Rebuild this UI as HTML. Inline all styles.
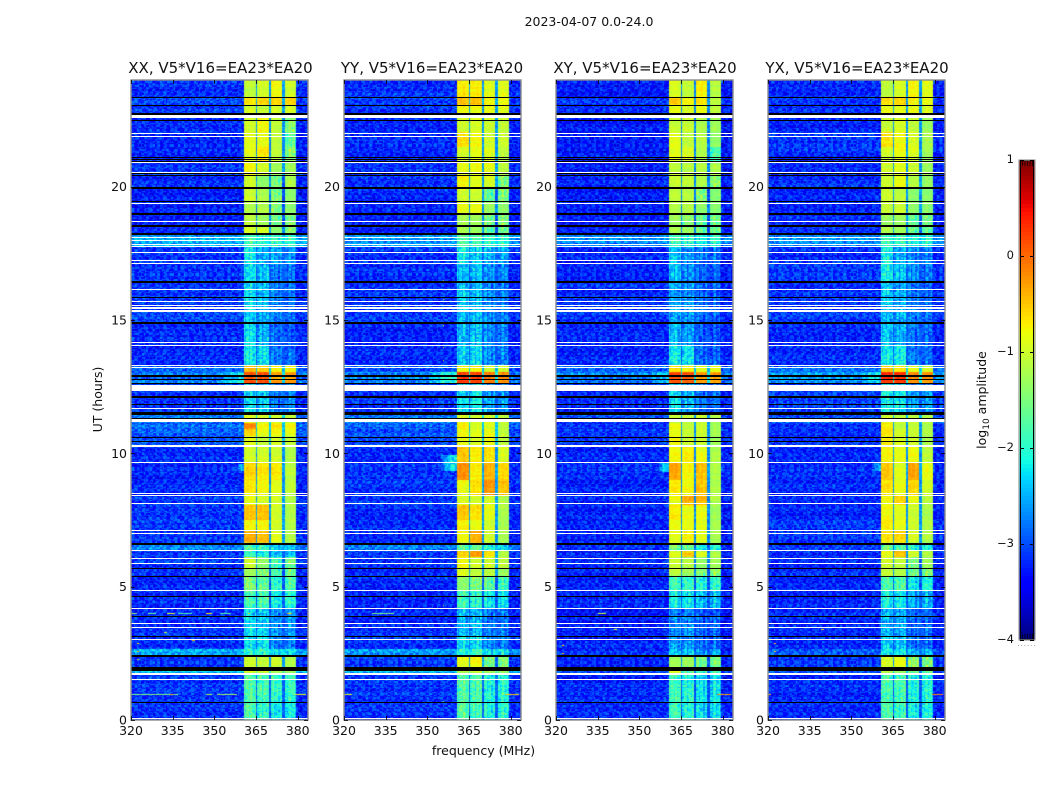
<!DOCTYPE html>
<html lang="en">
<head>
<meta charset="utf-8">
<title>2023-04-07 spectrograms</title>
<style>
html,body{margin:0;padding:0;background:#fff;}
#chart{position:relative;width:1050px;height:800px;overflow:hidden;background:#fff;}
canvas{position:absolute;top:80px;display:block;}
svg{position:absolute;left:0;top:0;}
text{font-family:"DejaVu Sans","Liberation Sans",sans-serif;fill:#111;}
</style>
</head>
<body>
<div id="chart">
<canvas id="heat-0" width="177" height="640" style="left:131px"></canvas>
<canvas id="heat-1" width="177" height="640" style="left:344px"></canvas>
<canvas id="heat-2" width="177" height="640" style="left:556px"></canvas>
<canvas id="heat-3" width="177" height="640" style="left:768px"></canvas>
<svg id="overlay" width="1050" height="800" viewBox="0 0 1050 800">
  <text x="589" y="26" text-anchor="middle" font-size="12.5">2023-04-07 0.0-24.0</text>
  <text x="220.5" y="73" text-anchor="middle" font-size="15">XX, V5*V16=EA23*EA20</text>
  <text x="432" y="73" text-anchor="middle" font-size="15">YY, V5*V16=EA23*EA20</text>
  <text x="645" y="73" text-anchor="middle" font-size="15">XY, V5*V16=EA23*EA20</text>
  <text x="857" y="73" text-anchor="middle" font-size="15">YX, V5*V16=EA23*EA20</text>
  <text x="483.5" y="755" text-anchor="middle" font-size="12.5">frequency (MHz)</text>
  <text transform="translate(102,399.5) rotate(-90)" text-anchor="middle" font-size="12.5">UT (hours)</text>
  <text transform="translate(986,400) rotate(-90)" text-anchor="middle" font-size="12.5">log<tspan font-size="9" dy="3">10</tspan><tspan dy="-3"> amplitude</tspan></text>
</svg>
</div>
<script>
// Axis data
const freqTicks = [320, 335, 350, 365, 380];
const hourTicks = [0, 5, 10, 15, 20];
const colorbarTicks = [1, 0, -1, -2, -3, -4];
const colorbarTickLabels = ['1', '0', '\u22121', '\u22122', '\u22123', '\u22124'];

// Frequency zones (MHz): background, block, gap, block, gap, block, gap, block, background
const zoneEdges = [320, 360.35, 364.8, 365.5, 369.7, 370.3, 374.7, 375.3, 379.6, 383.7];

// Time segments (hours, top to bottom)
const segmentEdges = [24, 23.36, 23.06, 22.68, 22.06, 21.5, 20.92, 20.43, 19.98, 19.46, 18.97, 18.52, 18.22, 17.73, 17.05, 16.42, 15.37, 14.92, 14.05, 13.3, 13.04, 12.59, 11.5, 11.16, 10.9, 10.64, 10.26, 9.66, 8.99, 8.42, 8.05, 7.49, 7.11, 6.66, 6.36, 6.1, 5.68, 5.38, 4.86, 4.18, 3.13, 2.64, 2.38, 2.01, 1.75, 0.73, 0];

// log10 amplitude per segment: background, block 1, block 2, block 3, block 4
const xxLevels = [
[-3,-1.1,-1,-.8,-1],[-2.9,-.7,-.6,-.6,-.6],[-3,-1,-1.1,-1,-1],[-3.05,-1,-.8,-1.1,-1.5],[-3.1,-.9,-.9,-1.1,-1.8],
[-3.1,-.9,-.7,-1.1,-1.5],[-3,-.8,-1,-1.3,-1.3],[-3.05,-1,-1.4,-1.6,-1.2],[-3.1,-1,-1.2,-1.5,-1.4],[-3.1,-1.2,-1.2,-1.5,-1.4],
[-3.1,-1.1,-1.3,-1.6,-1.5],[-3.1,-1,-1,-1.4,-1.5],[-2.4,-1.9,-2.1,-2,-2],[-3,-2.2,-2.6,-2.6,-2.7],[-3,-2.3,-2.5,-2.8,-2.9],
[-3,-2.3,-2.5,-2.8,-2.9],[-2.9,-2.4,-2.6,-2.8,-2.9],[-3.05,-2.3,-2.6,-2.9,-3],[-3.05,-2.2,-2.3,-2.8,-2.9],[-2.8,-.5,-.6,-.8,-.8],
[-2.65,.1,.1,-.3,-.3],[-3,-2.3,-2.4,-2.8,-2.8],[-2.65,-.9,-1,-1,-1.1],[-2.75,-.2,-.8,-.7,-.8],[-2.8,-.6,-.9,-.8,-.9],
[-2.85,-.9,-1.1,-1,-1.1],[-3.05,-1,-1,-1,-1.2],[-3.05,-.6,-.7,-.7,-1.1],[-3.05,-.7,-.8,-.9,-1.1],[-3,-.9,-1,-1,-1.2],
[-3,-.5,-.5,-1,-1.2],[-3,-.8,-.8,-1,-1.2],[-3,-.4,-.5,-.9,-1.2],[-2.6,-1.8,-2,-2.4,-2.5],[-3,-2,-2.2,-2.5,-2.5],
[-3,-1,-1.4,-1.9,-1.6],[-3.05,-1.3,-1.5,-1.9,-1.7],[-3.05,-1.5,-1.7,-2,-1.8],[-3.05,-1.9,-1.9,-2.2,-2],[-3.05,-2.3,-2.4,-2.7,-2.7],
[-3.05,-2.3,-2.3,-2.8,-2.8],[-2.4,-2,-2,-2.3,-2.3],[-3,-1,-1.1,-1,-1.2],[-2.2,-.9,-1,-1.2,-1.3],[-3,-1.8,-1.9,-2,-2],
[-3,-1.8,-2,-2.2,-2.2]];
const yyLevels = [
[-3,-.7,-.7,-.9,-.9],[-2.9,-.45,-.45,-.75,-.8],[-3,-.8,-.85,-.85,-.9],[-3.05,-1,-.95,-1,-1.05],[-3.05,-.65,-.8,-1,-1.05],
[-3.05,-.95,-.85,-.9,-1.1],[-3.05,-.9,-.85,-.9,-1.15],[-3,-.75,-.9,-.95,-1.5],[-3.05,-1,-1,-1.7,-1.5],[-3.05,-.85,-.85,-1.3,-1.4],
[-3.1,-1.25,-1.3,-1.6,-1.5],[-3.1,-1.2,-1.3,-1.7,-1.6],[-2.5,-1.8,-1.9,-2,-2],[-3,-2.2,-2.4,-2.5,-2.6],[-3.05,-2.5,-2.5,-2.7,-2.8],
[-3,-2.4,-2.5,-2.7,-2.8],[-2.95,-2.5,-2.5,-2.7,-2.8],[-3.05,-2.5,-2.4,-2.7,-2.8],[-3.05,-2.4,-2.3,-2.7,-2.8],[-2.8,-.8,-.75,-1,-1],
[-2.6,.25,.2,-.1,-.2],[-3,-2.3,-2.2,-2.6,-2.7],[-2.65,-.95,-1,-.95,-1.1],[-2.8,-.75,-1,-.95,-1.15],[-2.85,-.8,-.9,-.85,-1.1],
[-2.85,-.85,-.95,-.8,-1.1],[-3.05,-.5,-.7,-.65,-.95],[-2.95,-.2,-.7,-.4,-.6],[-3,-.85,-.65,-.25,-.5],[-3,-.95,-1,-1,-1.2],
[-3.05,-.5,-.65,-.85,-1.2],[-3.05,-.75,-.85,-1,-1.25],[-3.05,-.8,-.4,-1,-1.25],[-2.6,-1.7,-1.7,-2,-2.3],[-3,-.6,-.3,-.7,-1.2],
[-3,-.8,-1,-1,-1.1],[-3.05,-.9,-1.1,-1.1,-1.3],[-3.05,-1.4,-1.5,-1.7,-1.9],[-3.05,-1.9,-2,-2.2,-2.3],[-3.05,-2.5,-2.5,-2.8,-2.8],
[-3,-2.3,-2.3,-2.7,-2.8],[-2.45,-2,-1.9,-2.2,-2.2],[-3,-.9,-.8,-1.6,-1.6],[-2.2,-1.1,-1,-1.2,-1.3],[-3,-1.8,-1.85,-2.1,-2.05],
[-3,-1.75,-1.9,-2.1,-2.05]];
const xyLevels = [
[-3.15,-.95,-1.1,-.75,-1.15],[-3,-.55,-.8,-.7,-1.15],[-3.1,-.9,-1,-.9,-1.15],[-3.15,-1.05,-1.05,-1.2,-1.3],[-3.15,-.9,-1.1,-1.15,-1.4],
[-3.15,-.9,-.95,-1.2,-1.9],[-3.15,-1.1,-1.15,-1.15,-1.2],[-3.1,-1.05,-1.1,-1.2,-1.5],[-3.15,-1.1,-1.15,-1.5,-1.45],[-3.15,-1.2,-1.2,-1.4,-1.45],
[-3.15,-1.3,-1.5,-1.7,-1.6],[-3.15,-1.25,-1.35,-1.7,-1.7],[-2.6,-1.9,-2.1,-2.2,-2.1],[-3.1,-2.4,-2.7,-2.8,-2.9],[-3.1,-2.5,-2.7,-2.9,-3],
[-3.05,-2.6,-2.7,-2.9,-3],[-3,-2.6,-2.7,-2.9,-3],[-3.1,-2.5,-2.7,-3,-3.05],[-3.1,-2.2,-2.3,-2.9,-2.95],[-2.8,-.7,-.8,-.95,-.9],
[-2.6,.15,.1,-.25,-.3],[-3.05,-2.3,-2.5,-2.8,-2.9],[-2.9,-1.1,-1.1,-1.05,-1.2],[-3.05,-.8,-1.1,-1.05,-1.3],[-3.05,-.9,-1.1,-1.05,-1.3],
[-3,-.8,-1.05,-1.05,-1.35],[-3.1,-.8,-.75,-.85,-1.2],[-3.05,-.35,-.8,-.5,-1.2],[-3.1,-.7,-.8,-.5,-1.2],[-3.1,-.85,-.4,-.45,-1.2],
[-3.1,-.7,-.85,-.85,-1.3],[-3.1,-.85,-.85,-.9,-1.25],[-3.1,-.9,-.75,-.9,-1.25],[-3,-1.5,-1.7,-2.1,-2.1],[-3.1,-.9,-.55,-.95,-1.2],
[-3.1,-1.05,-1.2,-1.4,-1.3],[-3.1,-1.1,-1.3,-1.5,-1.5],[-3.1,-1.9,-2,-2.1,-2],[-3.1,-2.2,-2.3,-2.5,-2.5],[-3.15,-2.75,-2.75,-2.95,-2.95],
[-3.1,-2.6,-2.7,-2.9,-2.95],[-3,-2.4,-2.4,-2.6,-2.6],[-3.1,-1.3,-1.3,-1.6,-1.6],[-2.9,-.9,-1.8,-1.9,-2],[-3.1,-1.9,-2.1,-2.3,-2.3],
[-3.05,-1.9,-2.1,-2.3,-2.3]];
const yxLevels = [
[-3.05,-1.1,-.95,-.75,-.9],[-3,-.65,-.6,-.75,-.85],[-3,-.85,-.9,-.85,-.95],[-3.05,-1.05,-.95,-1.05,-1.3],[-3.05,-.7,-.85,-1,-1.25],
[-3.05,-1,-.85,-.95,-1.3],[-3.05,-1,-.9,-1,-1.3],[-3,-1,-.85,-1.15,-1.35],[-3.05,-1,-1.1,-1.4,-1.4],[-3.05,-1.05,-1,-1.35,-1.4],
[-3.05,-1.3,-1.3,-1.7,-1.6],[-3.05,-1.2,-1.3,-1.7,-1.7],[-2.5,-1.9,-2,-2.1,-2.1],[-3.05,-2.2,-2.6,-2.7,-2.8],[-3.05,-2.2,-2.5,-2.8,-2.9],
[-3,-2.4,-2.6,-2.8,-2.9],[-2.95,-2.5,-2.6,-2.8,-2.9],[-3.05,-2.4,-2.55,-2.8,-2.9],[-3.05,-2.2,-2.2,-2.8,-2.9],[-2.7,-.5,-.7,-.9,-1],
[-2.5,.3,.25,-.2,-.25],[-3,-2.2,-2.3,-2.7,-2.7],[-2.8,-1,-1.1,-1.1,-1.15],[-3,-.7,-1.1,-1.05,-1.2],[-3.05,-.7,-1,-1.05,-1.2],
[-3,-.7,-.95,-1,-1.25],[-3.05,-.75,-.85,-.8,-1.1],[-3,-.5,-.9,-.3,-.85],[-3.05,-.65,-.85,-.6,-1],[-3.05,-.8,-.6,-.85,-1.15],
[-3.05,-.8,-.9,-1,-1.2],[-3.05,-.75,-.9,-1.05,-1.2],[-3.05,-.7,-.65,-1,-1.2],[-2.9,-1.6,-1.8,-2,-2.1],[-3.05,-.85,-.5,-.95,-1.15],
[-3.05,-1,-1.1,-1.5,-1.3],[-3.05,-1.05,-1.2,-1.6,-1.5],[-3.05,-1.8,-1.8,-2.2,-2.1],[-3.05,-2.1,-2.2,-2.5,-2.5],[-3.05,-2.5,-2.6,-2.9,-2.9],
[-3.05,-2.4,-2.5,-2.8,-2.9],[-2.9,-2.3,-2.3,-2.6,-2.6],[-3.05,-1,-.9,-1.5,-1.6],[-2.8,-1.1,-1.3,-1.6,-1.7],[-3.05,-1.85,-1.9,-2.1,-2.1],
[-3.05,-1.8,-1.95,-2.15,-2.15]];

// Channel-to-channel scatter (dex)
const speckle = [.12,-.21,.05,.28,-.09,-.3,.17,.02,-.14,.24,-.26,.08,.33,-.05,-.18,.11,-.33,.2,.03,-.11,.27,-.23,.14,-.02,.31,-.16,-.07,.22,-.28,.06,.16,-.12,-.35,.25,.01,-.19,.1,.3,-.24,-.04,.19,-.15,.07,-.29,.26,.13,-.08,-.2,.34,-.01,-.27,.15,.09,-.17,.23,-.32,.04,.29,-.1,-.22,.18,-.06,.12,-.25,.32,-.13,.0,.21,-.31,.08,.27,-.16,-.03,.17,-.21,.35,-.11,.06,-.28,.2,.1,-.18,.24,-.07,-.34,.14,.03,-.23,.3,-.09,.16,-.26,.05,.22,-.14,-.02,.11];
// Slight vertical striping across each block
const blockRipple = [.12,-.08,.18,-.05,-.15,.1,.22,-.12,.04,.16,-.2,.06];

// Flagged rows: [centre hour, thickness in hours]
const whiteFlags = [[22.62,.11],[22,.04],[21.89,.04],[20.91,.04],[20.54,.04],[19.38,.04],[18.69,.04],[18.08,.04],[17.97,.04],[17.84,.04],[17.74,.04],[17.54,.04],[17.22,.04],[17.12,.04],[16.14,.04],[15.69,.04],[15.56,.04],[15.45,.04],[15.34,.07],[14.14,.04],[14.04,.04],[13.3,.04],[13.23,.04],[12.44,.23],[11.68,.04],[11.22,.11],[10.27,.07],[9.65,.04],[8.51,.04],[8.41,.04],[8.11,.04],[7.12,.04],[6.99,.04],[6.35,.04],[6.07,.04],[5.87,.04],[4.86,.04],[4.17,.04],[3.63,.04],[3.47,.04],[3.01,.04],[1.72,.07],[1.52,.04],[.07,.04]];
const blackFlags = [[23.35,.04],[23.05,.04],[22.73,.07],[22.47,.04],[21.1,.04],[21.03,.04],[20.96,.04],[20.48,.04],[20.41,.04],[19.96,.07],[19.46,.04],[18.96,.07],[18.52,.07],[18.21,.07],[16.42,.07],[15.85,.04],[14.9,.07],[12.9,.04],[12.77,.04],[12.62,.04],[12.11,.07],[11.83,.04],[11.51,.11],[11.31,.04],[10.61,.04],[10.46,.04],[6.6,.11],[5.67,.04],[5.37,.04],[4.63,.04],[3.87,.04],[3.13,.04],[2.39,.07],[1.92,.15],[.65,.04]];

// Raised background just below the first block: [panel, top hour, bottom hour, start MHz, level]
const shoulders = [[0,13.04,12.62,352,-2.3],[1,13.04,12.62,351,-2],[2,13.04,12.62,354,-2.4],[3,13.04,12.62,354,-2.3],[1,9.95,9.35,355,-2.2],[2,9.65,9.3,357,-2.3],[0,9.6,9.35,358,-2.5],[3,9.65,9.35,358,-2.5]];
// Interference specks and streaks: [panel, start MHz, end MHz, hour, level]
const interference = [
[0,320,322,4.03,-1.4],[0,326,329,4.03,-1.6],[0,333,336,4.03,-.9],[0,337,342,4.03,-1.8],[0,347,349,4.03,-.7],[0,352,356,4.03,-1.7],[0,362,363,4.03,-.7],[0,376,378,4.03,-.5],
[0,320,337,.98,-1.5],[0,334,335,.98,-.2],[0,347,349,.98,-1.2],[0,351,358,.98,-1.3],[0,379,383,.98,-.8],
[0,322,323,2.9,-.6],[0,322,323,2.6,-.4],[0,322,323,2.3,-.9],[0,342,343,3.65,.1],[0,342,343,3.0,-.4],[0,332,333,3.3,-1],
[1,330,338,4.03,-1.5],[1,355.5,356,16.5,-1],[1,355.5,356,15.8,-1],[1,355.5,356,14.8,-1],[1,355.5,356,14,-.9],[1,355.5,356,13.5,-1],[1,355.5,356,4.3,-1],[1,355.5,356,.7,-1.3],[1,320,323,.98,-.9],[1,378,383,.98,-.5],
[2,322,323,2.8,-.5],[2,322,323,2.5,-.6],[2,335,338,4.03,-1],[2,341,342,3.4,-.8],[2,378,383,.98,-.3],
[3,322,323,2.9,-.5],[3,322,323,2.6,-.5],[3,339,340,3.4,-.8],[3,379,383,.98,-.2],[3,320,321,.98,-.4]];

const panelLevels = [xxLevels, yyLevels, xyLevels, yxLevels];
const panelKeys = ['xx', 'yy', 'xy', 'yx'];
const panelLefts = [131, 344, 556, 768];
const panelWidth = 177, panelTop = 80, panelHeight = 640;
const freqMax = 383.7, hourMax = 24;

function xScale(freq) { return (freq - 320) / (freqMax - 320) * panelWidth; }
function yScale(hour) { return (hourMax - hour) / hourMax * panelHeight; }

function clamp01(v) { return Math.max(0, Math.min(1, v)); }
function jet(v) {
  const r = v < .35 ? 0 : v < .66 ? (v - .35) / .31 : v < .89 ? 1 : 1 - (v - .89) / .11 * .5;
  const g = v < .125 ? 0 : v < .375 ? (v - .125) / .25 : v < .64 ? 1 : v < .91 ? 1 - (v - .64) / .27 : 0;
  const b = v < .11 ? .5 + v / .11 * .5 : v < .34 ? 1 : v < .65 ? 1 - (v - .34) / .31 : 0;
  return 'rgb(' + Math.round(r * 255) + ',' + Math.round(g * 255) + ',' + Math.round(b * 255) + ')';
}
function colorOf(level) { return jet(clamp01((level + 4) / 5)); }

function segmentIndex(hour) {
  for (let s = 0; s < segmentEdges.length - 1; s++) {
    if (hour <= segmentEdges[s] && hour > segmentEdges[s + 1]) return s;
  }
  return segmentEdges.length - 2;
}
function zoneIndex(freq) {
  for (let z = 0; z < zoneEdges.length - 1; z++) {
    if (freq >= zoneEdges[z] && freq < zoneEdges[z + 1]) return z;
  }
  return zoneEdges.length - 2;
}

function cellLevel(p, levels, freq, hour, ch, row) {
  const seg = levels[segmentIndex(hour)];
  const z = zoneIndex(freq);
  const n1 = speckle[(ch * 37 + row * row * 11 + p * 13) % speckle.length];
  const n2 = speckle[(row * row + row * 5 + p * 29) % speckle.length];
  if (z === 0 || z === 8) {
    let bg = seg[0] - .15 - (z === 8 ? .05 : 0);
    for (const s of shoulders) {
      if (s[0] === p && hour <= s[1] && hour > s[2] && freq >= s[3] && z === 0) {
        bg = bg + (s[4] - bg) * clamp01((freq - s[3]) / (zoneEdges[1] - s[3]) + .3);
      }
    }
    return bg + n1 * 1.15 + n2 * .4;
  }
  if (z % 2 === 0) {
    const b = seg[z / 2];
    return seg[0] + .1 + (b > -1.5 ? .3 : 0) + n1 * .6;
  }
  const b = seg[(z + 1) / 2];
  const ripple = blockRipple[ch % blockRipple.length];
  if (b > -1.5) return b + n1 * .3 + n2 * .2 + ripple * .25;
  return b + n1 * 1 + n2 * .3 + ripple;
}

function drawHeatmap(p) {
  const ctx = document.getElementById('heat-' + p).getContext('2d');
  const levels = panelLevels[p];
  const chWidth = .5, rowHours = .05;
  const channels = Math.ceil((freqMax - 320) / chWidth);
  const rows = Math.ceil(hourMax / rowHours);
  for (let r = 0; r < rows; r++) {
    const hourTop = hourMax - r * rowHours;
    const y0 = Math.round(yScale(hourTop));
    const y1 = Math.round(yScale(hourTop - rowHours));
    for (let c = 0; c < channels; c++) {
      const f0 = 320 + c * chWidth;
      const x0 = Math.round(xScale(f0));
      const x1 = Math.round(xScale(f0 + chWidth));
      ctx.fillStyle = colorOf(cellLevel(p, levels, f0 + chWidth / 2, hourTop - rowHours / 2, c, r));
      ctx.fillRect(x0, y0, Math.max(1, x1 - x0), Math.max(1, y1 - y0));
    }
  }
  for (const d of interference) {
    if (d[0] !== p) continue;
    ctx.fillStyle = colorOf(d[4]);
    const x0 = Math.round(xScale(d[1]));
    ctx.fillRect(x0, Math.round(yScale(d[3])), Math.max(1, Math.round(xScale(d[2])) - x0), 1);
  }
}

const NS = 'http://www.w3.org/2000/svg';
const overlay = document.getElementById('overlay');
function make(tag, attrs) {
  const el = document.createElementNS(NS, tag);
  for (const k in attrs) el.setAttribute(k, attrs[k]);
  overlay.appendChild(el);
  return el;
}

function drawFlags(p, flags, color, label) {
  const left = panelLefts[p];
  for (const f of flags) {
    const y0 = Math.round(panelTop + yScale(f[0] + f[1] / 2));
    const y1 = Math.round(panelTop + yScale(f[0] - f[1] / 2));
    const r = make('rect', {x: left, y: y0, width: panelWidth, height: Math.max(1, y1 - y0), fill: color, 'shape-rendering': 'crispEdges'});
    
    
  }
}

function drawAxes(p) {
  const left = panelLefts[p], key = panelKeys[p];
  const frame = make('rect', {x: left, y: panelTop, width: panelWidth, height: panelHeight, fill: 'none', stroke: '#8c8c8c', 'stroke-width': 1.4});
  
  
  for (const f of freqTicks) {
    const x = Math.round(left + xScale(f)) + .5;
    const b = make('line', {x1: x, x2: x, y1: panelTop + panelHeight, y2: panelTop + panelHeight - 4, stroke: '#000', 'stroke-width': .8});
    
    
    const t = make('line', {x1: x, x2: x, y1: panelTop, y2: panelTop + 4, stroke: '#000', 'stroke-width': .8});
    
    
    const label = make('text', {x: left + xScale(f), y: 735, 'text-anchor': 'middle', 'font-size': 12.5});
    
    
    label.textContent = f;
  }
  for (const h of hourTicks) {
    const y = Math.round(panelTop + yScale(h)) + .5;
    const l = make('line', {x1: left, x2: left + 4, y1: y, y2: y, stroke: '#000', 'stroke-width': .8});
    
    
    const r = make('line', {x1: left + panelWidth - 4, x2: left + panelWidth, y1: y, y2: y, stroke: '#000', 'stroke-width': .8});
    
    
    const label = make('text', {x: left - 4, y: panelTop + yScale(h) + 4.5, 'text-anchor': 'end', 'font-size': 12.5});
    
    
    label.textContent = h;
  }
}

const cbarLeft = 1019, cbarTop = 160, cbarWidth = 16, cbarHeight = 480;
function cbarY(level) { return cbarTop + (1 - level) / 5 * cbarHeight; }
function drawColorbar() {
  const steps = 120;
  for (let i = 0; i < steps; i++) {
    const low = -4 + i * 5 / steps, high = -4 + (i + 1) * 5 / steps;
    const y0 = Math.round(cbarY(high)), y1 = Math.round(cbarY(low));
    const r = make('rect', {x: cbarLeft, y: y0, width: cbarWidth, height: y1 - y0, fill: colorOf((low + high) / 2), 'shape-rendering': 'crispEdges'});
    
    
  }
  const inner = make('rect', {x: cbarLeft + 1.5, y: cbarTop + .5, width: cbarWidth - 3, height: cbarHeight - 1, fill: 'none', stroke: '#000', 'stroke-width': 1});
  
  
  const frame = make('rect', {x: cbarLeft, y: cbarTop, width: cbarWidth, height: cbarHeight, fill: 'none', stroke: '#999', 'stroke-width': 1.2});
  
  
  colorbarTicks.forEach(function (level, i) {
    const y = Math.round(cbarY(level)) + .5;
    const a = make('line', {x1: cbarLeft + 1, x2: cbarLeft + 5, y1: y, y2: y, stroke: '#000', 'stroke-width': 1});
    
    
    const b = make('line', {x1: cbarLeft + cbarWidth - 5, x2: cbarLeft + cbarWidth - 1, y1: y, y2: y, stroke: '#000', 'stroke-width': 1});
    
    
    const label = make('text', {x: cbarLeft - 5, y: cbarY(level) + 3, 'text-anchor': 'end', 'font-size': 11.5});
    
    
    label.textContent = colorbarTickLabels[i];
  });
  for (let i = 0; i < 5; i++) {
    const x = cbarLeft + 3.5 + i * 2.5;
    const t = make('line', {x1: x, x2: x, y1: cbarTop + 1, y2: cbarTop + 6, stroke: '#000', 'stroke-width': .7});
    
    
    const u = make('line', {x1: x, x2: x, y1: cbarTop + cbarHeight - 6, y2: cbarTop + cbarHeight - 1, stroke: '#000', 'stroke-width': .7});
    
    
  }
  for (let i = 0; i < 6; i++) {
    const d = make('rect', {x: cbarLeft - 1 + i * 3.2, y: 645, width: 1, height: 1, fill: '#aaa'});
    
    
  }
}

for (let p = 0; p < 4; p++) {
  drawHeatmap(p);
  drawFlags(p, whiteFlags, '#fff', 'white');
  drawFlags(p, blackFlags, '#000', 'black');
  drawAxes(p);
}
drawColorbar();
</script>
</body>
</html>
